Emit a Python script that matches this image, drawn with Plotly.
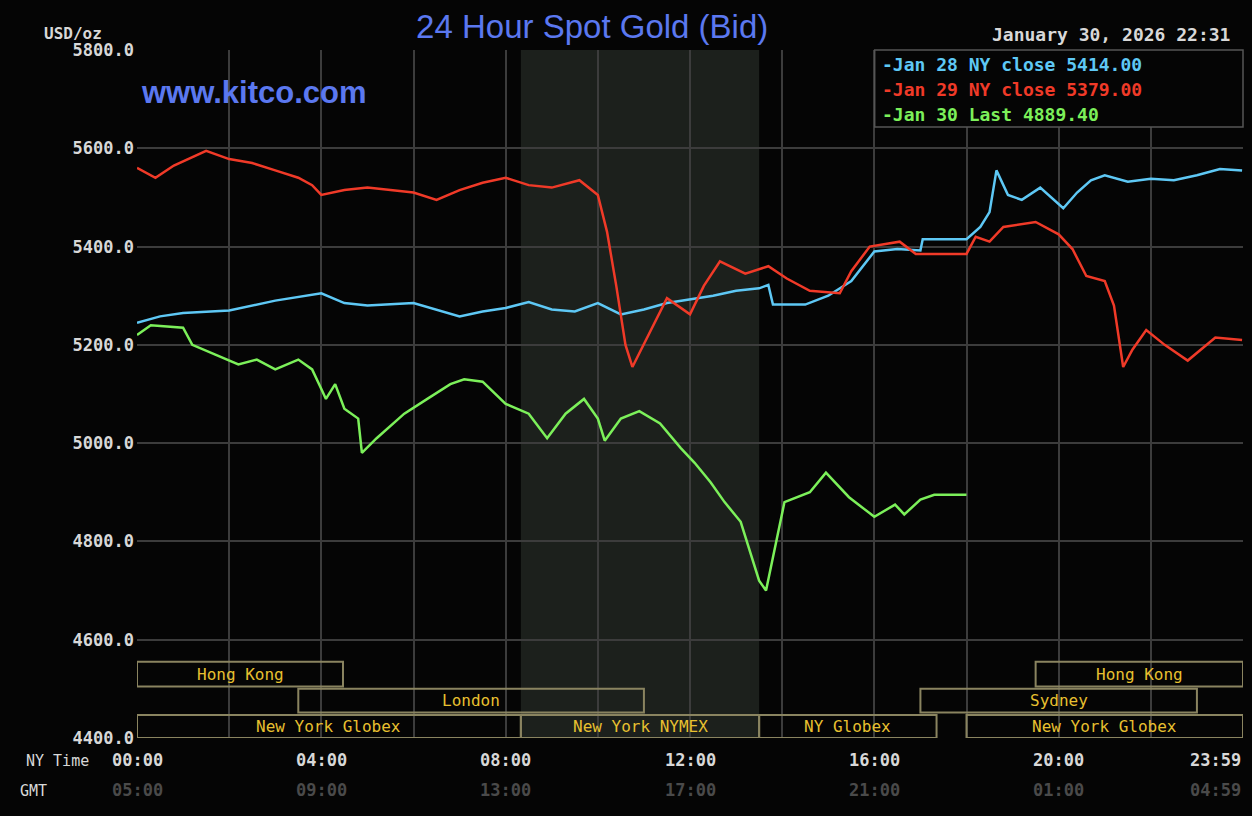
import plotly.graph_objects as go

# hours since 00:00 NY time, price USD/oz
jan28_x = [0, 0.5, 1, 2, 3, 4, 4.5, 5, 6, 6.5, 7, 7.5, 8, 8.5, 9, 9.5, 10, 10.5, 11, 11.5, 12, 12.5, 13,
           13.5, 13.7, 13.8, 14.5, 15, 15.5, 16, 16.5, 17, 17.05, 18, 18.3, 18.5, 18.65, 18.9, 19.2, 19.6,
           20.1, 20.4, 20.7, 21, 21.5, 22, 22.5, 23, 23.5, 23.98]
jan28_y = [5245, 5258, 5265, 5270, 5290, 5305, 5285, 5280, 5285, 5272, 5258, 5268, 5275, 5287, 5272, 5268,
           5285, 5262, 5272, 5285, 5292, 5300, 5310, 5315, 5322, 5282, 5282, 5300, 5330, 5390, 5395, 5392,
           5415, 5415, 5440, 5470, 5555, 5505, 5495, 5520, 5478, 5510, 5535, 5545, 5532, 5538, 5535, 5545,
           5558, 5555]

jan29_x = [0, 0.4, 0.8, 1.5, 2, 2.5, 3, 3.5, 3.8, 4, 4.5, 5, 6, 6.5, 7, 7.5, 8, 8.5, 9, 9.6, 10, 10.2,
           10.4, 10.6, 10.75, 11.1, 11.5, 12, 12.3, 12.65, 13.2, 13.7, 14.1, 14.6, 15.25, 15.5, 15.9, 16.55,
           16.9, 18.0, 18.2, 18.5, 18.8, 19.5, 20.0, 20.3, 20.6, 21.0, 21.2, 21.4, 21.6, 21.9, 22.3, 22.8,
           23.4, 23.98]
jan29_y = [5560, 5540, 5565, 5595, 5578, 5570, 5555, 5540, 5525, 5505, 5515, 5520, 5510, 5495, 5515, 5530,
           5540, 5525, 5520, 5535, 5505, 5430, 5320, 5200, 5155, 5220, 5295, 5262, 5320, 5370, 5345, 5360,
           5335, 5310, 5305, 5350, 5400, 5410, 5385, 5385, 5420, 5410, 5440, 5450, 5425, 5395, 5340, 5330,
           5280, 5155, 5190, 5230, 5200, 5168, 5215, 5210]

jan30_x = [0, 0.3, 1, 1.2, 1.7, 2.2, 2.6, 3, 3.5, 3.8, 4, 4.1, 4.3, 4.5, 4.8, 4.88, 5.2, 5.8, 6.3, 6.8,
           7.1, 7.5, 8.0, 8.5, 8.9, 9.3, 9.7, 10.0, 10.15, 10.5, 10.9, 11.35, 11.8, 12.1, 12.45, 12.75,
           13.1, 13.3, 13.5, 13.65, 13.85, 14.05, 14.6, 14.95, 15.45, 16.0, 16.45, 16.65, 17.0, 17.3, 18.0]
jan30_y = [5220, 5240, 5235, 5200, 5180, 5160, 5170, 5150, 5170, 5150, 5110, 5090, 5120, 5070, 5050, 4980,
           5010, 5060, 5090, 5120, 5130, 5125, 5080, 5060, 5010, 5060, 5090, 5050, 5005, 5050, 5065, 5040,
           4990, 4960, 4920, 4880, 4840, 4780, 4720, 4700, 4790, 4880, 4900, 4940, 4890, 4850, 4875, 4855,
           4885, 4895, 4895]

ny_ticks = [0, 4, 8, 12, 16, 20, 24]
ny_labels = ["00:00", "04:00", "08:00", "12:00", "16:00", "20:00", "23:59"]
gmt_labels = ["05:00", "09:00", "13:00", "17:00", "21:00", "01:00", "04:59"]

# sessions: (name, start, end, row) row 0 = bottom
sessions = [("Hong Kong", 0, 4.47, 2), ("London", 3.5, 11.0, 1), ("New York Globex", 0, 8.33, 0),
            ("New York NYMEX", 8.33, 13.5, 0), ("NY Globex", 13.5, 17.35, 0), ("Sydney", 17.0, 23.0, 1),
            ("New York Globex", 18.0, 24, 0), ("Hong Kong", 19.5, 24, 2)]

MONO = "DejaVu Sans Mono"
BLUE, RED, GREEN = "#5ec8f5", "#f03a28", "#7cf05a"

fig = go.Figure()
for xs, ys, c in [(jan28_x, jan28_y, BLUE), (jan29_x, jan29_y, RED), (jan30_x, jan30_y, GREEN)]:
    fig.add_trace(go.Scatter(x=xs, y=ys, mode="lines", line=dict(color=c, width=2.5), showlegend=False))

fig.add_vrect(x0=8.33, x1=13.5, fillcolor="#1c201c", line_width=0, layer="below")

row_h = [(4400, 4447), (4452, 4500), (4505, 4555)]
for name, s, e, r in sessions:
    y0, y1 = row_h[r]
    fig.add_shape(type="rect", x0=s, x1=e, y0=y0, y1=y1, line=dict(color="#8a8460", width=2),
                  fillcolor="rgba(0,0,0,0)")
    fig.add_annotation(x=(s + e) / 2, y=(y0 + y1) / 2, text=name, showarrow=False,
                       font=dict(family=MONO, size=16, color="#e8c030"))

# legend box
fig.add_shape(type="rect", xref="paper", yref="paper", x0=0.667, x1=1.0, y0=0.888, y1=1.0,
              fillcolor="#050505", line=dict(color="#555", width=1.5))
leg = [("-Jan 28 NY close 5414.00", BLUE), ("-Jan 29 NY close 5379.00", RED), ("-Jan 30 Last 4889.40", GREEN)]
for i, (t, c) in enumerate(leg):
    fig.add_annotation(xref="paper", yref="paper", x=0.672, y=0.997 - i * 0.036, text="<b>" + t + "</b>",
                       showarrow=False, xanchor="left", yanchor="top",
                       font=dict(family=MONO, size=18, color=c))

for x, a, b in zip(ny_ticks, ny_labels, gmt_labels):
    anc = "right" if x == 24 else "center"
    fig.add_annotation(x=x, yref="paper", y=-0.05, text="<b>" + a + "</b>", showarrow=False, xanchor=anc,
                       font=dict(family=MONO, size=17, color="#d8d8d8"))
    fig.add_annotation(x=x, yref="paper", y=-0.093, text="<b>" + b + "</b>", showarrow=False, xanchor=anc,
                       font=dict(family=MONO, size=17, color="#4a4a4a"))

fig.add_annotation(xref="paper", yref="paper", x=-0.042, y=-0.05, text="NY Time", showarrow=False,
                   xanchor="right", font=dict(family=MONO, size=15, color="#d8d8d8"))
fig.add_annotation(xref="paper", yref="paper", x=-0.08, y=-0.093, text="GMT", showarrow=False,
                   xanchor="right", font=dict(family=MONO, size=15, color="#d8d8d8"))
fig.add_annotation(xref="paper", yref="paper", x=-0.03, y=1.04, text="<b>USD/oz</b>", showarrow=False,
                   xanchor="right", font=dict(family=MONO, size=16, color="#d8d8d8"))
fig.add_annotation(xref="paper", yref="paper", x=0.99, y=1.005, text="<b>January 30, 2026 22:31</b>",
                   showarrow=False, xanchor="right", yanchor="bottom",
                   font=dict(family=MONO, size=18, color="#d8d8d8"))
fig.add_annotation(xref="paper", yref="paper", x=0.002, y=0.967, text="<b>www.kitco.com</b>",
                   showarrow=False, xanchor="left", font=dict(family="Liberation Sans", size=31, color="#5b78f0"))

fig.update_layout(
    width=1252, height=816, paper_bgcolor="#050505", plot_bgcolor="#050505",
    margin=dict(l=137, r=9, t=50, b=78),
    title=dict(text="24 Hour Spot Gold (Bid)", x=0.473, y=0.982, xanchor="center",
               font=dict(family="Liberation Sans", size=33, color="#5b78f0")),
    xaxis=dict(range=[0, 24], dtick=2, tick0=0, showticklabels=False, showgrid=True,
               gridcolor="#3c3c3c", gridwidth=2, zeroline=False, showline=False),
    yaxis=dict(range=[4400, 5800], dtick=200, tickformat=".1f", showgrid=True, gridcolor="#3c3c3c",
               gridwidth=2, zeroline=False, ticks="", tickfont=dict(family=MONO, size=17, color="#d8d8d8"),
               ticklabelstandoff=2),
)
fig.update_yaxes(tickprefix="<b>", ticksuffix="</b>")
fig.write_html("out.html", config={"displayModeBar": False},
               post_script="document.body.style.margin='0';document.body.style.background='#050505';")
